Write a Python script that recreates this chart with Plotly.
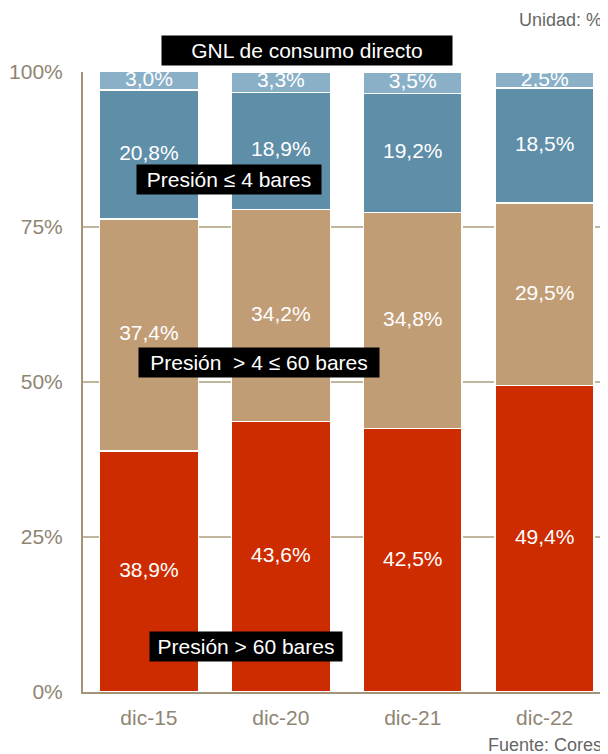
import plotly.graph_objects as go
import numpy as np

categories = ["dic-15", "dic-20", "dic-21", "dic-22"]
series_names = ["Presión > 60 bares", "Presión  > 4 ≤ 60 bares", "Presión ≤ 4 bares", "GNL de consumo directo"]
pres_gt60 = [38.9, 43.6, 42.5, 49.4]
pres_4_60 = [37.4, 34.2, 34.8, 29.5]
pres_le4 = [20.8, 18.9, 19.2, 18.5]
gnl_directo = [3.0, 3.3, 3.5, 2.5]
colors = ["#CD2C00", "#C19D76", "#5F8EA9", "#8AB0C7"]
y_tickvals = [0, 25, 50, 75, 100]
y_ticktext = ["0%", "25%", "50%", "75%", "100%"]

FONT = "Arial, Liberation Sans, sans-serif"
series = [pres_gt60, pres_4_60, pres_le4, gnl_directo]

fig = go.Figure()
for name, vals, col in zip(series_names, series, colors):
    fig.add_trace(go.Bar(
        x=categories, y=vals, name=name,
        marker=dict(color=col, line=dict(color="white", width=1.5)),
        hoverinfo="skip", textposition="none",
    ))

# value labels at segment midpoints
bottom = np.zeros(len(categories))
for vals in series:
    v = np.array(vals)
    mid = bottom + v / 2
    fig.add_trace(go.Scatter(
        x=categories, y=mid, mode="text",
        text=[f"{x:.1f}%".replace(".", ",") for x in v],
        textfont=dict(color="white", size=21, family=FONT),
        showlegend=False, hoverinfo="skip", cliponaxis=False,
    ))
    bottom = bottom + v

# page body has an 8px margin, so the figure is 8px smaller than the window
fig.update_layout(
    barmode="stack",
    bargap=0.25,
    width=600, height=746,
    margin=dict(l=75, r=0, t=64, b=62),
    paper_bgcolor="white", plot_bgcolor="white",
    showlegend=False,
    font=dict(family=FONT),
    xaxis=dict(
        range=[-0.5, 3.48],
        showline=True, linecolor="#A39479", linewidth=2,
        showgrid=False, ticks="", ticklabelstandoff=6,
        tickfont=dict(size=21, color="#8F8573", family=FONT),
    ),
    yaxis=dict(
        range=[0, 100],
        tickvals=y_tickvals, ticktext=y_ticktext,
        showline=True, linecolor="#A39479", linewidth=2,
        showgrid=True, gridcolor="#C2B59E", gridwidth=2,
        zeroline=False, ticks="", ticklabelstandoff=14,
        tickfont=dict(size=21, color="#8F8573", family=FONT),
    ),
)

boxes = [
    ("GNL de consumo directo", 0.427, 1.034, 282),
    ("Presión ≤ 4 bares", 0.278, 0.827, 176),
    ("Presión  > 4 ≤ 60 bares", 0.336, 0.532, 232),
    ("Presión > 60 bares", 0.310, 0.074, 184),
]
for txt, xp, yp, w in boxes:
    fig.add_annotation(
        text=txt, x=xp, y=yp, xref="paper", yref="paper",
        xanchor="center", yanchor="middle", showarrow=False,
        bgcolor="black", borderpad=4, width=w, height=21,
        font=dict(color="white", size=21, family=FONT),
    )

fig.add_annotation(text="Unidad: %", x=1.0, y=(692 - 20) / 620, xref="paper", yref="paper",
                   xanchor="right", yanchor="middle", xshift=-4, showarrow=False,
                   font=dict(size=18, color="#666666", family=FONT))
fig.add_annotation(text="Fuente: Cores", x=1.0, y=(692 - 745) / 620, xref="paper", yref="paper",
                   xanchor="right", yanchor="middle", xshift=-4, showarrow=False,
                   font=dict(size=18, color="#666666", family=FONT))

fig.write_html("out.html")
